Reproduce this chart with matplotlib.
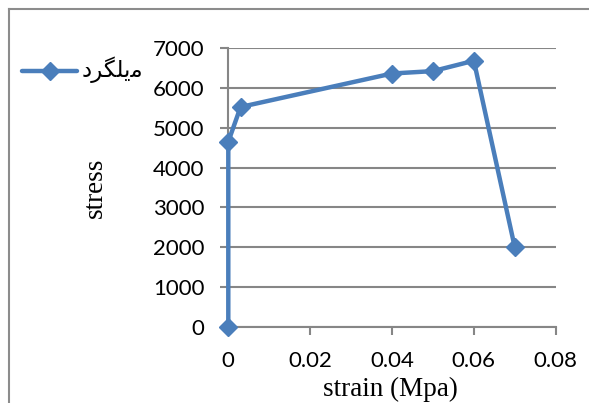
import matplotlib
matplotlib.use("Agg")
import matplotlib.pyplot as plt
from matplotlib.lines import Line2D

# stress-strain readings for the rebar sample
strain = [0.0, 0.0, 0.003, 0.04, 0.05, 0.06, 0.07]
stress = [0, 4650, 5520, 6360, 6420, 6680, 2000]

x_ticks = [0, 0.02, 0.04, 0.06, 0.08]
x_tick_labels = ["0", "0.02", "0.04", "0.06", "0.08"]
y_ticks = [0, 1000, 2000, 3000, 4000, 5000, 6000, 7000]

# Persian label "rebar", written in presentation forms so it shows joined, right-to-left
series_name = "\uFEA9\uFEAE\uFB95\uFEE0\uFBFE\uFEE3"

blue = "#4A7EBB"
grid_gray = "#868686"

W, H = 589, 403
fig = plt.figure(figsize=(W / 100, H / 100), dpi=100)
fig.patch.set_facecolor("white")

left, right, top, bottom = 228.3, 555.7, 48, 327
ax = fig.add_axes([left / W, 1 - bottom / H, (right - left) / W, (bottom - top) / H])

ax.plot(strain, stress, color=blue, lw=3.2, marker="D", markersize=9.5,
        markerfacecolor=blue, markeredgecolor=blue, solid_joinstyle="miter",
        clip_on=False, zorder=3, label=series_name)

ax.set_xlim(0, 0.08)
ax.set_ylim(0, 7000)
ax.set_xticks(x_ticks)
ax.set_xticklabels(x_tick_labels)
ax.set_yticks(y_ticks)
ax.yaxis.grid(True, color=grid_gray, lw=1.5)
ax.set_axisbelow(True)

for side in ("top", "right"):
    ax.spines[side].set_visible(False)
for side in ("left", "bottom"):
    ax.spines[side].set_color(grid_gray)
    ax.spines[side].set_linewidth(1.5)

ax.tick_params(axis="both", direction="out", length=5.8, width=1.5, color=grid_gray,
               labelsize=16, pad=11.5)
for lab in ax.get_xticklabels() + ax.get_yticklabels():
    lab.set_fontfamily("Lato")

ax.set_xlabel("strain (Mpa)", family="Liberation Serif", fontsize=19.5, va="center")
ax.set_ylabel("stress", family="Liberation Serif", fontsize=19.5, va="center")
ax.xaxis.set_label_coords((390 - left) / (right - left), (bottom - 389) / (bottom - top))
ax.yaxis.set_label_coords((95 - left) / (right - left), 0.5)

# legend entry drawn by hand at the upper left
fig.add_artist(Line2D([22 / W, 77 / W], [1 - 71 / H, 1 - 71 / H], color=blue, lw=3.2,
                      solid_capstyle="round"))
fig.add_artist(Line2D([50 / W], [1 - 71 / H], color=blue, marker="D", markersize=9.5))
fig.text(82 / W, 1 - 70 / H, series_name, family=["DejaVu Sans"], fontsize=16.5,
         ha="left", va="center")

# chart frame (only its top and left edges fall inside the image)
fig.add_artist(Line2D([9 / W, 9 / W], [-0.1, 1 - 9 / H], color="#8C8C8C", lw=1.5))
fig.add_artist(Line2D([9 / W, 1.1], [1 - 9 / H, 1 - 9 / H], color="#8C8C8C", lw=1.5))

fig.savefig("out.png", dpi=100)
